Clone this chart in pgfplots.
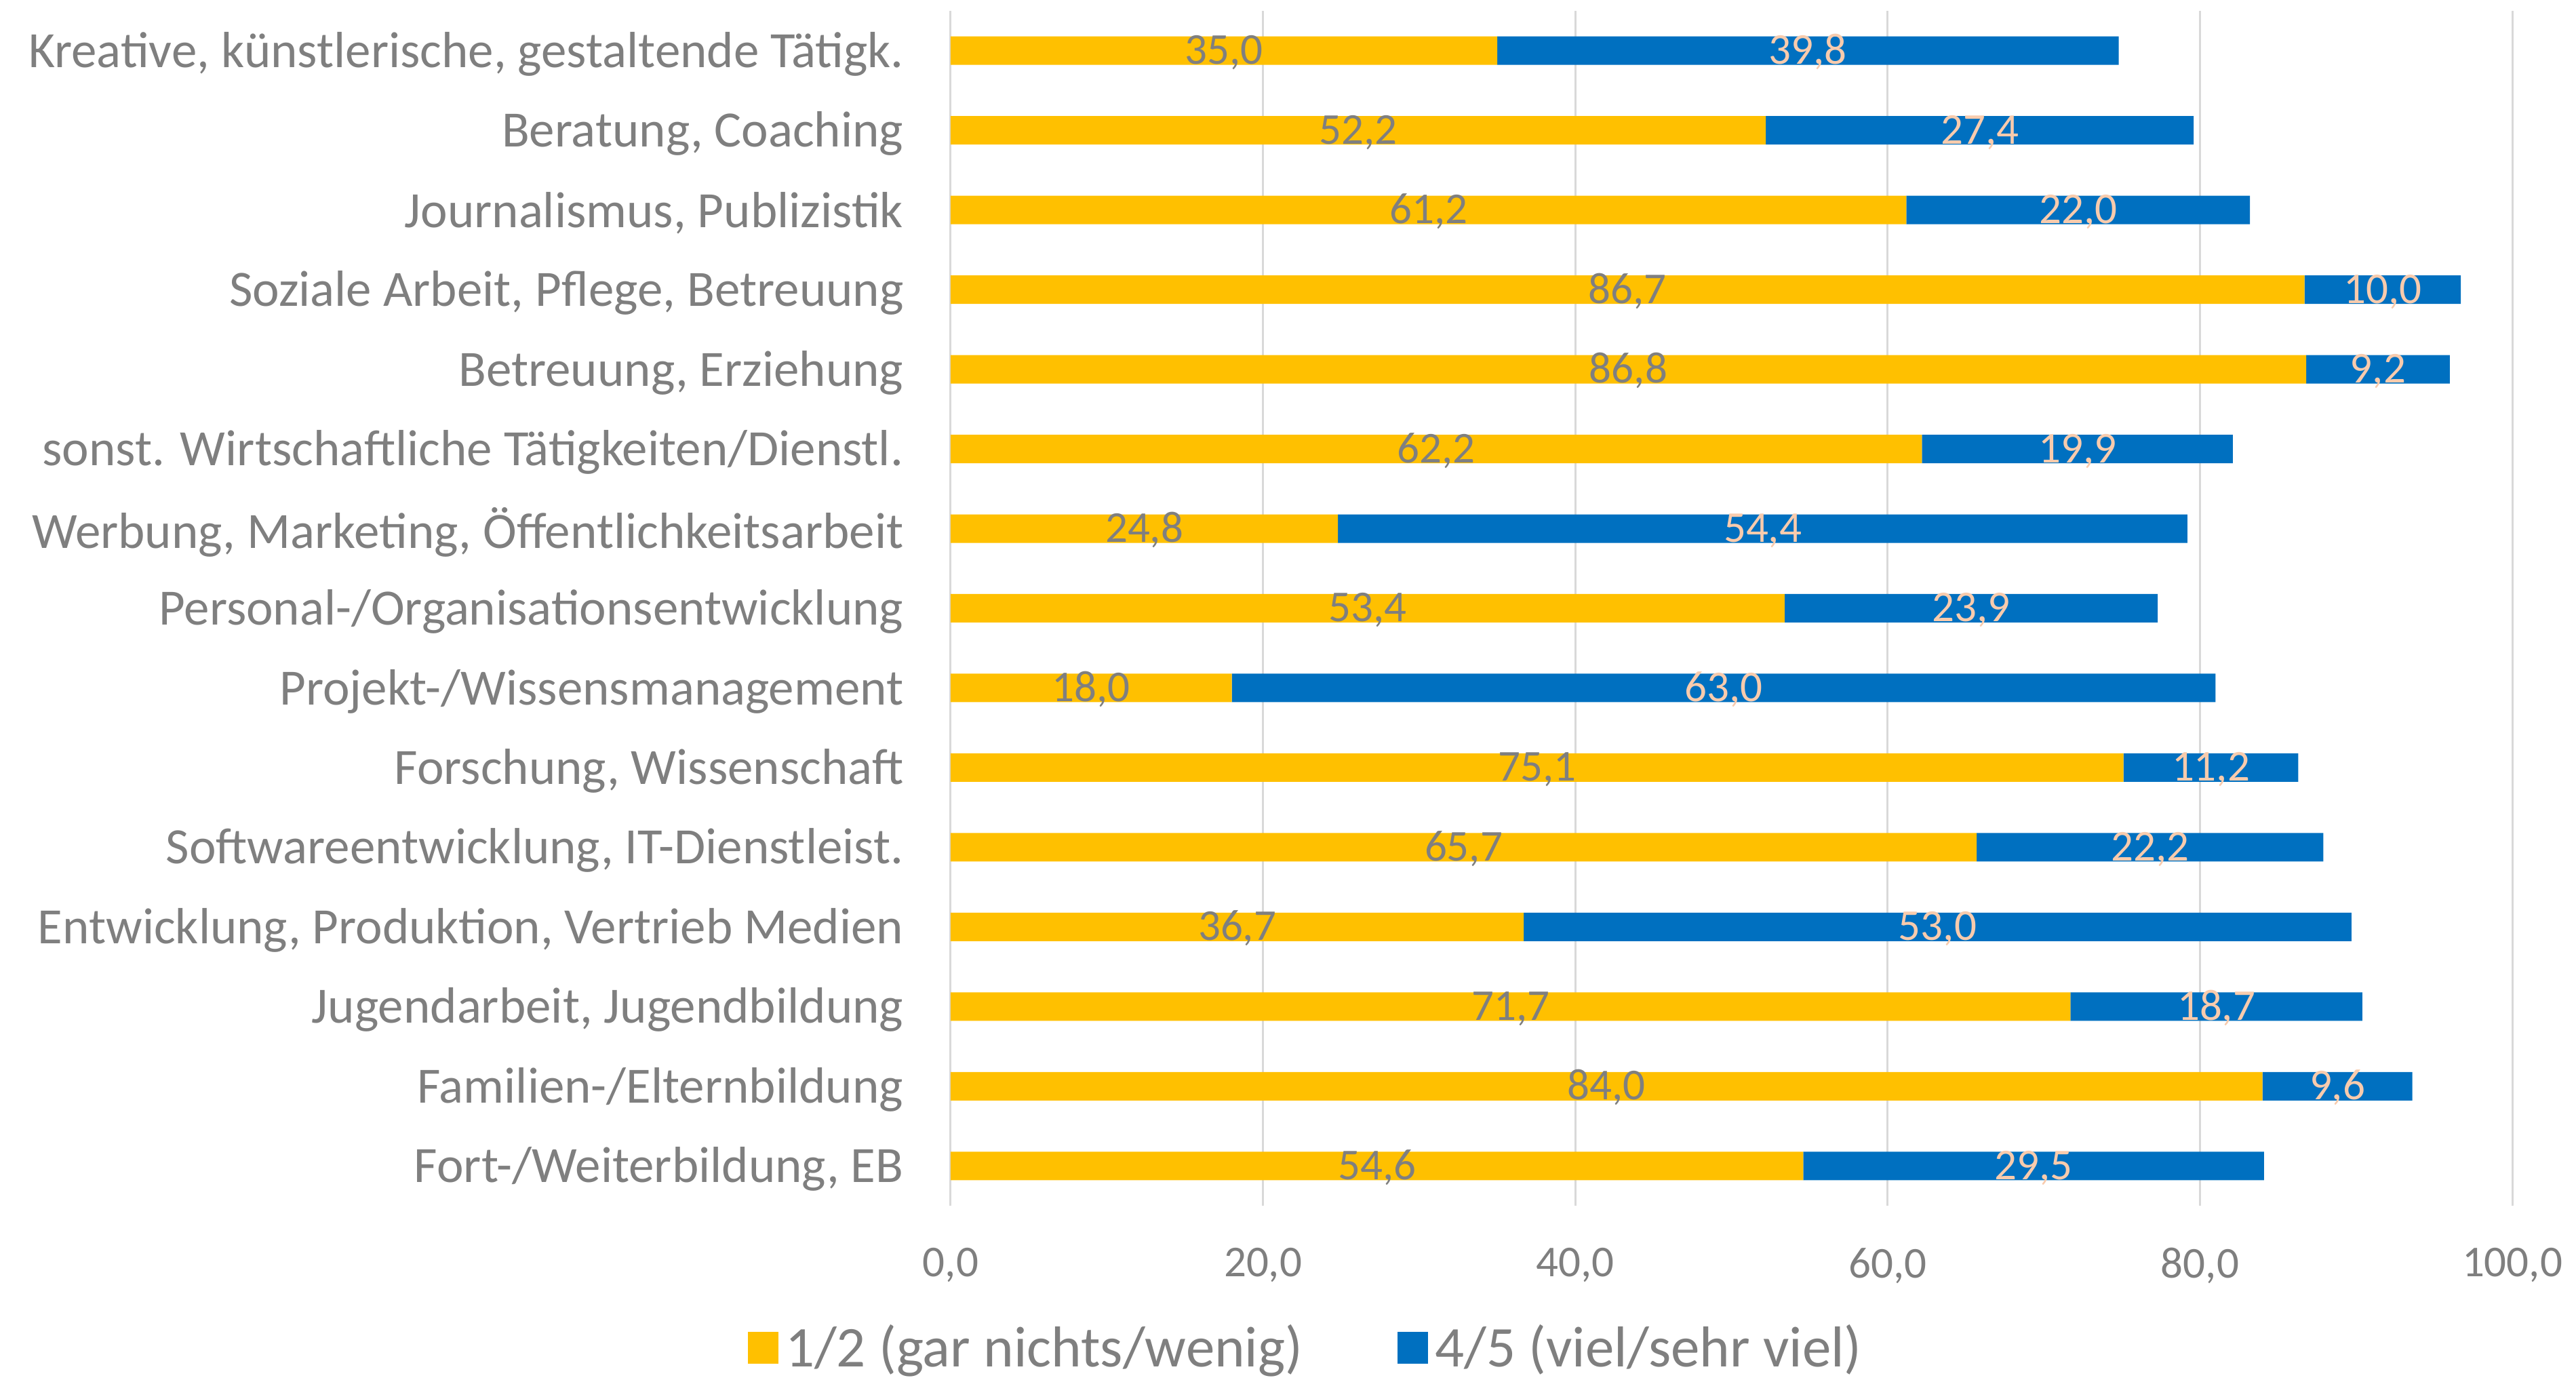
\documentclass[border=0pt]{standalone}
\usepackage{pgfplots}
\pgfplotsset{compat=1.18}
\usepackage{pgfplotstable}
\usepackage{fontspec}
\setmainfont{Carlito}
\definecolor{cyel}{HTML}{FFC000}
\definecolor{cblu}{HTML}{0070C0}
\definecolor{ctxt}{HTML}{7F7F7F}
\definecolor{cpeach}{HTML}{F8CBAD}
\definecolor{cgrid}{HTML}{D9D9D9}

% y = row from bottom, a = 1/2, b = 4/5
\pgfplotstableread{
y a b
0 54.6 29.5
1 84.0 9.6
2 71.7 18.7
3 36.7 53.0
4 65.7 22.2
5 75.1 11.2
6 18.0 63.0
7 53.4 23.9
8 24.8 54.4
9 62.2 19.9
10 86.8 9.2
11 86.7 10.0
12 61.2 22.0
13 52.2 27.4
14 35.0 39.8
}\data

\pgfplotsset{common/.style={
  width=460.6pt, height=352.4pt, scale only axis,
  xmin=0, xmax=100, ymin=-0.5, ymax=14.5, enlargelimits=false}}

\begin{document}
\begin{tikzpicture}
\begin{axis}[
  common, name=ax,
  xbar stacked, bar width=8.4pt,
  axis line style={draw=none}, tick style={draw=none},
  xtick={0,20,40,60,80,100},
  xticklabel={\pgfmathprintnumber[fixed,fixed zerofill,precision=1,use comma,assume math mode=true]{\tick}},
  xticklabel style={font=\fontsize{13}{15}\selectfont, text=ctxt, yshift=-8.9pt},
  xmajorgrids, grid style={draw=cgrid, line width=0.6pt},
  ytick={0,...,14},
  yticklabels={{Fort-/Weiterbildung, EB},{Familien-/Elternbildung},{Jugendarbeit, Jugendbildung},
    {Entwicklung, Produktion, Vertrieb Medien},{Softwareentwicklung, IT-Dienstleist.},
    {Forschung, Wissenschaft},{Projekt-/Wissensmanagement},{Personal-/Organisationsentwicklung},
    {Werbung, Marketing, Öffentlichkeitsarbeit},{sonst. Wirtschaftliche Tätigkeiten/Dienstl.},
    {Betreuung, Erziehung},{Soziale Arbeit, Pflege, Betreuung},{Journalismus, Publizistik},
    {Beratung, Coaching},{Kreative, künstlerische, gestaltende Tätigk.}},
  yticklabel style={font=\fontsize{15}{18}\selectfont, text=ctxt, xshift=-10.4pt, yshift=-1pt},
  legend style={at={(0.229,-0.119)}, anchor=center, draw=none, legend columns=2,
    font=\fontsize{17}{20}\selectfont, text=ctxt,
    /tikz/every even column/.append style={column sep=26pt}},
  legend image code/.code={\fill[#1] (0pt,-4.7pt) rectangle (9pt,4.7pt);},
]
\addplot[fill=cyel, draw=none] table[x=a, y=y]{\data};
\addlegendentry{1/2 (gar nichts/wenig)}
\addplot[fill=cblu, draw=none] table[x=b, y=y]{\data};
\addlegendentry{4/5 (viel/sehr viel)}
\end{axis}
\begin{axis}[
  common, hide axis, clip=false,
  point meta=explicit,
  nodes near coords={\pgfmathprintnumber[fixed,fixed zerofill,precision=1,use comma,assume math mode=true]{\pgfplotspointmeta}},
  every node near coord/.append style={anchor=base, yshift=-4pt, font=\fontsize{13}{15}\selectfont},
]
\addplot[draw=none, no marks, nodes near coords style={text=ctxt}]
  table[x expr=\thisrow{a}/2, y=y, meta=a]{\data};
\addplot[draw=none, no marks, nodes near coords style={text=cpeach}]
  table[x expr=\thisrow{a}+\thisrow{b}/2, y=y, meta=b]{\data};
\end{axis}
\pgfresetboundingbox
\path ([xshift=-280.4pt,yshift=-51.2pt]ax.south west) rectangle ([xshift=18.8pt,yshift=3.2pt]ax.north east);
\end{tikzpicture}
\end{document}
